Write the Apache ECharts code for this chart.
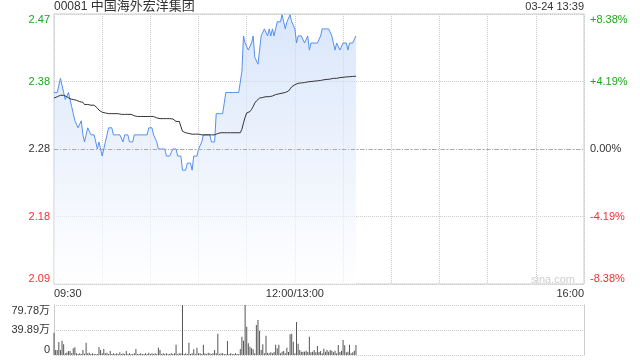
<!DOCTYPE html>
<html><head><meta charset="utf-8">
<script src="https://cdn.jsdelivr.net/npm/echarts@6/dist/echarts.min.js"></script>
<style>html,body{margin:0;padding:0;background:#fff}#c{width:640px;height:360px}</style>
</head><body><div id="c"></div>
<script>
const stockCode = '00081';
const stockName = '中国海外宏洋集团';
const stamp = '03-24 13:39';
const prevClose = 2.28;
const pctRange = 8.38;
const volMax = 79.78;
const sessionMinutes = 330;
const timeLabels = {0: '09:30', 150: '12:00/13:00', 330: '16:00'};

const prices = [
2.36,2.36,2.36,2.36,2.38,2.37,2.36,2.35,2.35,2.36,
2.35,2.34,2.33,2.32,2.32,2.31,2.31,2.32,2.30,2.29,
2.30,2.31,2.31,2.30,2.30,2.30,2.29,2.28,2.29,2.28,
2.27,2.28,2.29,2.30,2.31,2.31,2.31,2.30,2.30,2.30,
2.30,2.30,2.30,2.29,2.30,2.30,2.30,2.29,2.29,2.29,
2.30,2.30,2.30,2.30,2.30,2.30,2.30,2.30,2.30,2.31,
2.31,2.31,2.30,2.30,2.29,2.28,2.28,2.28,2.28,2.28,
2.27,2.27,2.27,2.27,2.28,2.28,2.28,2.27,2.27,2.27,
2.25,2.25,2.25,2.26,2.26,2.26,2.25,2.27,2.27,2.27,
2.28,2.28,2.29,2.30,2.30,2.30,2.30,2.30,2.29,2.29,
2.29,2.33,2.33,2.33,2.33,2.33,2.33,2.36,2.36,2.36,
2.36,2.36,2.36,2.36,2.36,2.36,2.36,2.39,2.44,2.43,
2.43,2.42,2.42,2.43,2.44,2.41,2.41,2.40,2.42,2.44,
2.44,2.45,2.45,2.44,2.45,2.44,2.45,2.44,2.45,2.46,
2.46,2.46,2.47,2.46,2.45,2.46,2.46,2.47,2.46,2.46,
2.45,2.43,2.44,2.44,2.44,2.44,2.43,2.43,2.44,2.42,
2.43,2.43,2.43,2.43,2.43,2.43,2.44,2.45,2.45,2.45,
2.45,2.45,2.45,2.44,2.44,2.42,2.43,2.43,2.42,2.42,
2.43,2.43,2.43,2.42,2.43,2.43,2.43,2.43,2.44
];

const avgPrices = [
2.352,2.353,2.354,2.355,2.356,2.356,2.356,2.355,2.354,2.352,
2.351,2.350,2.350,2.349,2.349,2.348,2.347,2.347,2.346,2.343,
2.343,2.343,2.342,2.342,2.342,2.342,2.340,2.338,2.335,2.333,
2.332,2.331,2.331,2.330,2.330,2.330,2.330,2.330,2.330,2.330,
2.330,2.329,2.329,2.329,2.329,2.329,2.329,2.329,2.329,2.328,
2.327,2.326,2.326,2.326,2.326,2.326,2.326,2.326,2.326,2.326,
2.326,2.326,2.326,2.325,2.324,2.324,2.323,2.323,2.323,2.323,
2.323,2.323,2.323,2.323,2.3225,2.321,2.319,2.319,2.319,2.319,
2.305,2.304,2.303,2.3027,2.302,2.301,2.301,2.301,2.301,2.301,
2.301,2.300,2.300,2.300,2.300,2.300,2.300,2.300,2.300,2.300,
2.300,2.301,2.302,2.303,2.303,2.303,2.303,2.303,2.303,2.303,
2.303,2.303,2.303,2.303,2.303,2.303,2.303,2.308,2.317,2.325,
2.331,2.332,2.333,2.336,2.340,2.345,2.348,2.350,2.352,2.353,
2.353,2.354,2.354,2.354,2.354,2.354,2.355,2.356,2.357,2.357,
2.358,2.358,2.359,2.360,2.360,2.361,2.362,2.365,2.368,2.370,
2.371,2.372,2.373,2.3735,2.3735,2.374,2.374,2.3745,2.375,2.375,
2.3755,2.3755,2.376,2.376,2.3765,2.377,2.377,2.3775,2.378,2.378,
2.3785,2.379,2.379,2.3795,2.380,2.380,2.380,2.3805,2.381,2.381,
2.3815,2.3815,2.382,2.382,2.3823,2.3825,2.3827,2.383,2.383
];

const volumes = [
35.6,8,8,20.7,8,22.9,17,2.7,4,6.4,
6.4,2.7,10.6,12.2,2.7,1.6,2.7,1.6,8,2,
19.7,2.7,3.7,1.6,2.7,1.6,1.6,1.6,12.8,8,
2.7,9.6,2.7,3.7,1.6,6.4,1.6,2.7,1.6,2.7,
1.6,4.3,1.6,2.7,1.6,6.4,1.6,2.7,1.6,1.6,
2.7,9.6,1.6,1.6,2.7,1.6,1.6,2.7,1.6,3.7,
1.6,2.7,1.6,2.7,1.6,11.7,8,1.6,2.7,1.6,
2.7,1.6,1.6,2.7,1.6,2.7,16.5,1.6,2.7,2.7,
79.8,1.6,2.7,1.6,19.7,1.6,2.7,9,1.6,11.7,
2.7,2.7,1.6,16.5,2.7,1.6,3.7,2.7,1.6,2.7,
8,2.7,34,1.6,2.7,2.7,1.6,1.6,22.3,1.6,
2.7,1.6,1.6,2.7,1.6,1.6,9.6,29.3,22.9,79.8,
45.2,18.6,13.3,10.6,9,2.7,47.9,55.9,38.8,8,
17,2.7,30.9,3.7,2.7,4.3,2.7,4.8,16.5,10.6,
16.5,2.7,5.3,6.4,2.7,11.7,4.8,33,34,21.3,
2.7,52.7,18.1,8,5.3,5.3,5.3,6.9,4.8,29.3,
4.3,5.3,8,4.3,14.4,4.8,6.4,2.7,10.1,5.3,
8,5.3,8,6.9,4.3,6.9,2.7,16,4.8,6.9,
24,15.4,4.3,5.3,16.5,2.7,4.3,6.9,16
];

const FONT = 'Arial, "Liberation Sans", "Noto Sans CJK SC", sans-serif';
const GREEN = '#1ea51e', RED = '#f23030', DARK = '#333';
const pMin = prevClose * (1 - pctRange / 100);
const pMax = prevClose * (1 + pctRange / 100);
const pInt = (pMax - pMin) / 4;

const priceData = prices.map((p, i) => [i, p]);
const avgData = avgPrices.map((p, i) => [i, p]);
const volData = volumes.map((v, i) => [i, v]);

function priceColor(v) {
  if (v > prevClose + 1e-4) return GREEN;
  if (v < prevClose - 1e-4) return RED;
  return DARK;
}
function pctColor(v) {
  if (v > 1e-6) return GREEN;
  if (v < -1e-6) return RED;
  return DARK;
}

const chart = echarts.init(document.getElementById('c'), null, {renderer: 'canvas'});
chart.setOption({
  animation: false,
  backgroundColor: '#fff',
  textStyle: {fontFamily: FONT},
  title: [
    {text: '{a|' + stockCode + ' }{b|' + stockName + '}', left: 54, top: 0, padding: 0,
     textStyle: {fontWeight: 'normal', rich: {
       a: {fontSize: 12, color: DARK, fontFamily: FONT, fontWeight: 'normal'},
       b: {fontSize: 13, color: DARK, fontFamily: FONT, fontWeight: 'normal'}}}},
    {text: stamp, right: 56, top: 1, padding: 0, textStyle: {fontSize: 11, fontWeight: 'normal', color: DARK, fontFamily: FONT}}
  ],
  graphic: [
    {type: 'text', left: 531, top: 274, silent: true, style: {text: 'sina.com', fill: '#cfcfcf', font: '11px ' + FONT}}
  ],
  grid: [
    {left: 54, top: 14, width: 530, height: 270, show: true, borderColor: '#cccccc', borderWidth: 1, backgroundColor: 'transparent'},
    {left: 54, top: 305, width: 530, height: 50}
  ],
  xAxis: [
    {type: 'value', gridIndex: 0, min: 0, max: sessionMinutes, interval: 30,
     axisLine: {show: false}, axisTick: {show: false},
     splitLine: {show: true, lineStyle: {color: '#cccccc', type: [1, 1]}},
     axisLabel: {margin: 4, fontSize: 11, color: DARK, fontFamily: FONT, showMinLabel: true, showMaxLabel: true,
       alignMinLabel: 'left', alignMaxLabel: 'right', formatter: v => timeLabels[v] || ''}},
    {type: 'value', gridIndex: 1, min: 0, max: sessionMinutes, interval: 30, show: false}
  ],
  yAxis: [
    {type: 'value', gridIndex: 0, min: pMin, max: pMax, interval: pInt, position: 'left',
     axisLine: {show: false}, axisTick: {show: false},
     splitLine: {show: true, lineStyle: {color: '#cccccc', type: [1, 1]}},
     axisLabel: {margin: 4, fontSize: 11, fontFamily: FONT, formatter: v => v.toFixed(2), color: v => priceColor(v),
       verticalAlignMinLabel: 'bottom', verticalAlignMaxLabel: 'top', showMinLabel: true, showMaxLabel: true}},
    {type: 'value', gridIndex: 0, min: -pctRange, max: pctRange, interval: pctRange / 2, position: 'right',
     axisLine: {show: false}, axisTick: {show: false}, splitLine: {show: false},
     axisLabel: {margin: 6, fontSize: 11, fontFamily: FONT, color: v => pctColor(v),
       formatter: v => (Math.abs(v) < 1e-6 ? '0.00' : (v > 0 ? '+' : '') + v.toFixed(2)) + '%',
       verticalAlignMinLabel: 'bottom', verticalAlignMaxLabel: 'top', showMinLabel: true, showMaxLabel: true}},
    {type: 'value', gridIndex: 1, min: 0, max: volMax, interval: volMax / 2, position: 'left',
     axisLine: {show: true, lineStyle: {color: '#cccccc'}}, axisTick: {show: false},
     splitLine: {show: true, lineStyle: {color: '#cccccc', type: [1, 1]}},
     axisLabel: {margin: 4, fontSize: 11, color: DARK, fontFamily: FONT,
       formatter: v => (v < 1e-6 ? '0' : v.toFixed(2) + '万'),
       verticalAlignMinLabel: 'bottom', verticalAlignMaxLabel: 'top', showMinLabel: true, showMaxLabel: true}},
    {type: 'value', gridIndex: 1, min: 0, max: volMax, position: 'right',
     axisLine: {show: true, lineStyle: {color: '#cccccc'}}, axisTick: {show: false},
     splitLine: {show: false}, axisLabel: {show: false}}
  ],
  series: [
    {type: 'line', name: 'price', xAxisIndex: 0, yAxisIndex: 0, data: priceData, showSymbol: false, symbol: 'none',
     lineStyle: {color: '#5590ee', width: 1},
     areaStyle: {origin: 'start', color: new echarts.graphic.LinearGradient(0, 0, 0, 1, [
       {offset: 0, color: 'rgba(196,216,248,0.9)'},
       {offset: 1, color: 'rgba(255,255,255,0.9)'}
     ])},
     markLine: {silent: true, symbol: 'none', label: {show: false},
       lineStyle: {color: '#aaaaaa', type: [4, 2, 1, 2], width: 1},
       data: [{yAxis: prevClose}]},
     z: 3},
    {type: 'line', name: 'avg', xAxisIndex: 0, yAxisIndex: 0, data: avgData, showSymbol: false, symbol: 'none',
     lineStyle: {color: '#333333', width: 1}, z: 4},
    {type: 'bar', name: 'vol', xAxisIndex: 1, yAxisIndex: 2, data: volData, barWidth: 1,
     itemStyle: {color: '#555555'}}
  ]
});
</script>
</body></html>
